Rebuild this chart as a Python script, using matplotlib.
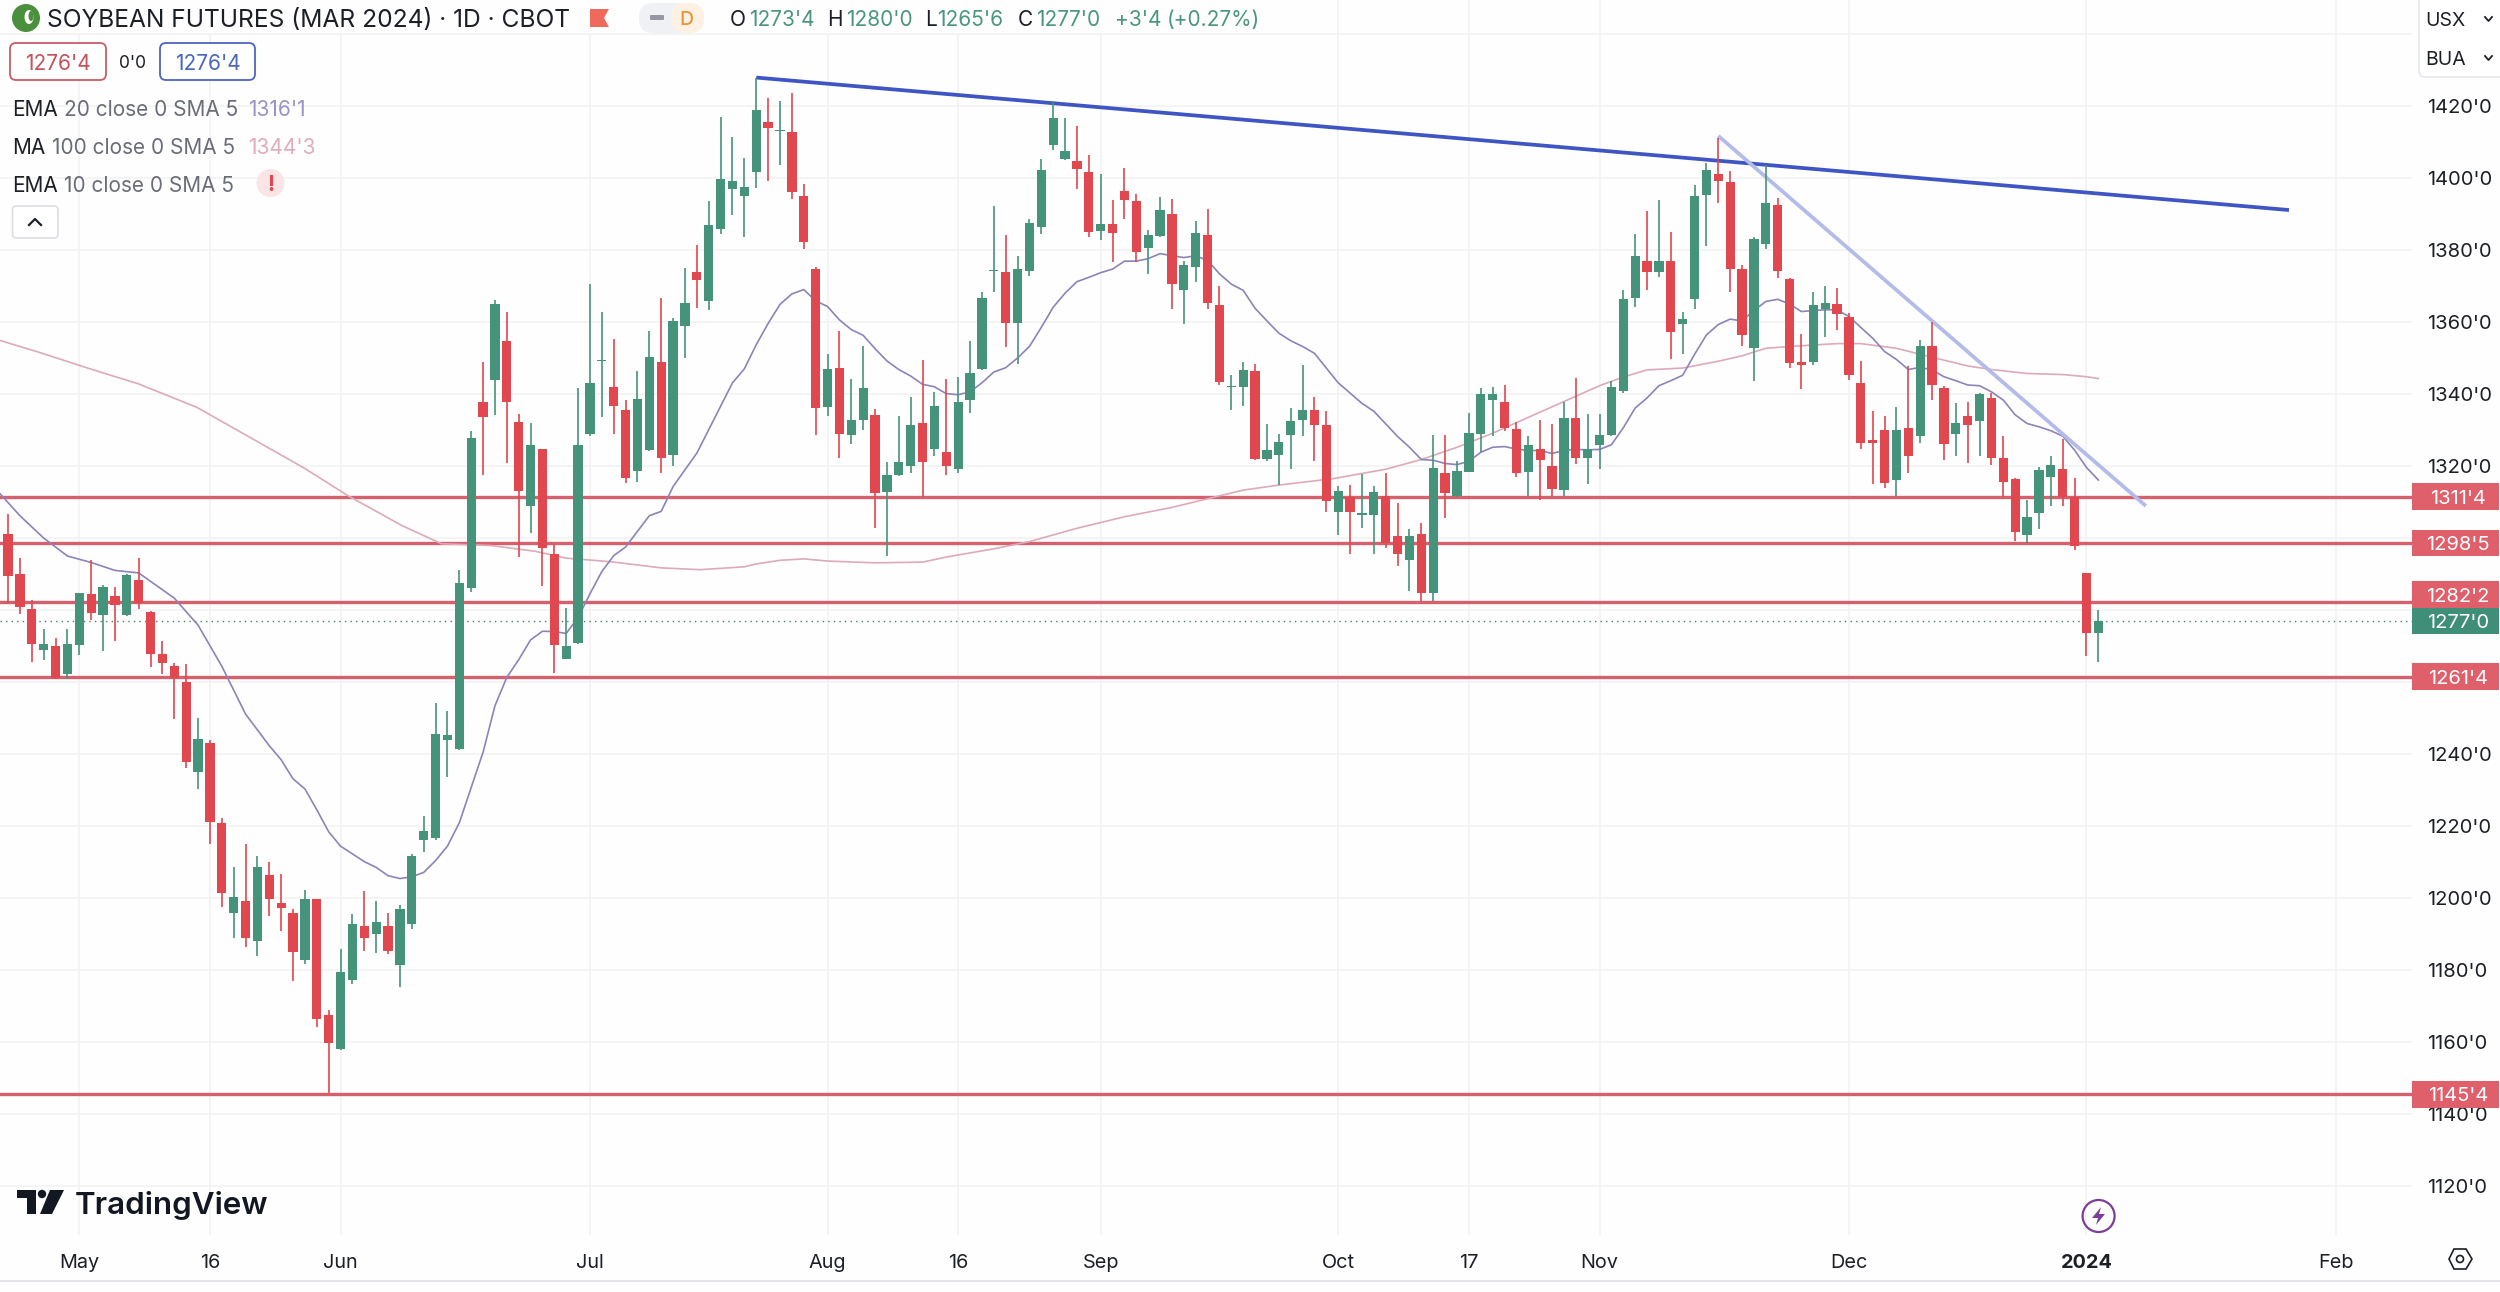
import numpy as np
import matplotlib
matplotlib.use("Agg")
import matplotlib.pyplot as plt
from matplotlib.patches import Rectangle, FancyBboxPatch, Circle, Ellipse, Polygon
from matplotlib.transforms import blended_transform_factory

plt.rcParams['font.family'] = ['Inter', 'DejaVu Sans']

# candle values, one entry per trading day
opens = [1301, 1290, 1280.2, 1268.8, 1269.9, 1262.2, 1270.3, 1284.5, 1278.6, 1284,
         1278.6, 1288.2, 1279.5, 1267.8, 1264.4, 1260, 1235, 1243, 1220.8, 1195.7,
         1199.3, 1188, 1206.3, 1198.7, 1195.9, 1182.9, 1199.8, 1167.5, 1158.1, 1177.3,
         1192.2, 1190, 1192.2, 1181.5, 1192.9, 1216.1, 1216.8, 1243.8, 1241.3, 1286.2,
         1337.7, 1344, 1354.6, 1332.3, 1309, 1324.8, 1295.6, 1266.3, 1270.9, 1328.8,
         1349.1, 1342, 1335.6, 1318.6, 1324.4, 1348.9, 1323, 1358.9, 1374, 1365.9,
         1385.9, 1397, 1395, 1401.7, 1415.6, 1413, 1412.9, 1394.9, 1374.7, 1336.5,
         1347.2, 1328.7, 1332.8, 1334.3, 1312.8, 1317.5, 1319.9, 1331.9, 1324.7, 1323.9,
         1319.1, 1338.4, 1346.9, 1374.1, 1373.8, 1359.8, 1374.2, 1386.3, 1409.1, 1405.3,
         1404.7, 1401.7, 1385.4, 1387.2, 1396.4, 1393.7, 1380.6, 1383.8, 1390.1, 1368.9,
         1375.2, 1384.3, 1364.6, 1342, 1342, 1346.3, 1322, 1323.1, 1328.7, 1332.8,
         1335.5, 1331.4, 1307.1, 1311.3, 1306.5, 1306.4, 1311.6, 1300.6, 1293.8, 1301.1,
         1284.7, 1318.1, 1311.6, 1318.4, 1328.9, 1338.3, 1337.9, 1330.4, 1318.4, 1324.6,
         1320.1, 1313.3, 1333.2, 1322.2, 1325.7, 1328.6, 1340.8, 1366.8, 1376.9, 1373.9,
         1377, 1359.5, 1366.4, 1395.4, 1401.2, 1399, 1374.8, 1352.9, 1381.7, 1392.6,
         1372, 1348.8, 1348.9, 1363.5, 1365, 1361.4, 1343, 1327.2, 1329.9, 1316,
         1330.6, 1328.4, 1353.2, 1341.7, 1328.8, 1333.9, 1332.6, 1338.8, 1322.1, 1316.3,
         1300.9, 1306.9, 1317, 1319.3, 1311.4, 1290.3, 1273.5]
closes = [1289.5, 1280.8, 1270.5, 1270.5, 1261.2, 1270.5, 1284.8, 1279.3, 1286.4, 1281.3,
          1289.7, 1282, 1267.8, 1265.3, 1261.1, 1237.8, 1244.2, 1221.1, 1201.5, 1200.4,
          1188.9, 1208.5, 1199.8, 1197.3, 1185, 1199.8, 1166.4, 1159.6, 1179.4, 1192.9,
          1188.9, 1193.3, 1185.3, 1197, 1211.7, 1218.7, 1245.6, 1245.4, 1287.5, 1327.7,
          1333.5, 1365.1, 1337.8, 1313, 1325.8, 1297.2, 1270.3, 1269.9, 1325.9, 1343,
          1349.5, 1336.7, 1316.8, 1338.5, 1350.2, 1322.1, 1360.4, 1365.4, 1371.6, 1386.9,
          1399.6, 1399.2, 1397.6, 1418.8, 1413.8, 1413.2, 1396, 1382.1, 1336, 1347,
          1328.9, 1332.8, 1341.7, 1312.4, 1317.4, 1321.1, 1331.5, 1321, 1336.6, 1320.1,
          1337.8, 1345.8, 1366.7, 1374.4, 1359.8, 1374.6, 1387.5, 1402.2, 1416.8, 1407.4,
          1402.6, 1384.9, 1387.2, 1384.7, 1393.8, 1379.4, 1384.2, 1391.2, 1370.6, 1375.7,
          1384.7, 1365.3, 1343.4, 1342.3, 1346.7, 1322, 1324.5, 1326.8, 1332.5, 1335.6,
          1331.5, 1310.2, 1313.1, 1307.2, 1307, 1312.8, 1298.7, 1295.5, 1300.6, 1284.7,
          1319.4, 1312.6, 1318.7, 1329.1, 1340, 1340, 1330.6, 1318.1, 1325.9, 1321.8,
          1313.5, 1333.2, 1322.2, 1324.6, 1328.6, 1342, 1366.5, 1378.3, 1373.9, 1376.9,
          1357.3, 1360.8, 1395, 1402.3, 1399.3, 1374.7, 1356.4, 1383.1, 1393, 1374.1,
          1348.6, 1348.1, 1364.7, 1365.4, 1362.2, 1345.4, 1326.4, 1326.4, 1315.3, 1330.1,
          1322.8, 1353.2, 1342.5, 1326.2, 1331.9, 1331.4, 1339.9, 1322.3, 1315.5, 1301.6,
          1305.9, 1318.8, 1320.4, 1311.5, 1297.9, 1273.5, 1277]
highs = [1306.8, 1294.4, 1282.7, 1274.6, 1272.1, 1274.6, 1284.8, 1293.8, 1287, 1286.4,
         1290.1, 1294.4, 1279.8, 1271.4, 1265.4, 1265, 1249.9, 1243.9, 1222.1, 1208.5,
         1215, 1211.7, 1210, 1206.8, 1197, 1202.3, 1199.8, 1168.8, 1185.9, 1195.5,
         1201.9, 1199.2, 1195.7, 1198, 1212.3, 1222.7, 1254.3, 1251.9, 1291, 1329.8,
         1349, 1366.2, 1362.9, 1334.5, 1331.9, 1324.8, 1298.2, 1280.6, 1341.6, 1370.6,
         1362.9, 1355.2, 1338.3, 1346.3, 1357.4, 1366.6, 1361.1, 1375, 1381.5, 1393.6,
         1416.9, 1411.4, 1405.5, 1427.9, 1422.3, 1421.5, 1423.6, 1398.3, 1375.3, 1351,
         1357.6, 1344.1, 1353.4, 1335.9, 1321, 1334, 1339.1, 1349.4, 1340.6, 1344.3,
         1344.6, 1354.8, 1368.4, 1392.2, 1384.3, 1378.4, 1388.5, 1405.2, 1421.5, 1416.6,
         1414.5, 1406.5, 1401, 1393.9, 1402.9, 1395.5, 1385.6, 1394.6, 1394.3, 1376.9,
         1388, 1391.4, 1370, 1345.2, 1348.9, 1348.2, 1331.6, 1328.9, 1336, 1348.1,
         1339.3, 1335.2, 1314.5, 1314.7, 1317.9, 1314.5, 1318.1, 1309.7, 1302.6, 1304.3,
         1328.6, 1328.6, 1321.3, 1334.7, 1341.6, 1342, 1342.6, 1332.3, 1328.4, 1332.7,
         1331.6, 1337.9, 1344.5, 1334.5, 1334.5, 1343.7, 1369, 1384.5, 1390.9, 1393.9,
         1384.9, 1362.7, 1398, 1404.1, 1411, 1401.9, 1375.9, 1383.7, 1403.5, 1394.4,
         1372.2, 1356.6, 1368.4, 1370, 1369.5, 1362.5, 1349.1, 1335.3, 1334, 1336.4,
         1347.8, 1354.9, 1360, 1342.3, 1337.4, 1337.7, 1340.4, 1340.2, 1328.2, 1316.6,
         1310.5, 1319.8, 1322.8, 1327.5, 1316.6, 1290.4, 1280]
lows = [1282, 1279, 1265.5, 1266.2, 1260.7, 1260.7, 1267.5, 1277.1, 1268.6, 1271.4,
        1278.3, 1280.2, 1264.1, 1262.3, 1249.7, 1236.1, 1230.3, 1215, 1197.6, 1189,
        1186.5, 1184, 1194.9, 1190.8, 1177, 1181.8, 1164.2, 1145.7, 1157.7, 1176.1,
        1185.3, 1184.7, 1184.5, 1175.4, 1191.4, 1212.8, 1216.2, 1233.7, 1241, 1285.1,
        1317.4, 1334.1, 1320.7, 1294.8, 1301.5, 1286.6, 1262.4, 1266.3, 1270.6, 1328.4,
        1333.5, 1328.9, 1315.3, 1315.5, 1324.2, 1318, 1319.9, 1350, 1363.9, 1363.3,
        1384.5, 1389.8, 1383.7, 1397.1, 1399.1, 1403.7, 1394.1, 1380.3, 1328.7, 1334,
        1322.3, 1326, 1330.1, 1302.9, 1294.9, 1317.3, 1318.1, 1311.4, 1322.9, 1317.5,
        1318.1, 1334.6, 1346.7, 1368.4, 1353.1, 1348.2, 1372.8, 1384.5, 1407.9, 1405.1,
        1397, 1383.7, 1382.8, 1376.8, 1388.5, 1376.8, 1373.4, 1383.6, 1363.6, 1359.4,
        1371.2, 1363.5, 1342.4, 1335.6, 1336.7, 1321.8, 1321.3, 1314.6, 1319.1, 1328.4,
        1321.5, 1307.2, 1300.9, 1295.5, 1302.8, 1295.5, 1297.2, 1292.1, 1285.3, 1282.4,
        1282.4, 1305.5, 1311.4, 1318.2, 1323.8, 1328.4, 1329.6, 1316.9, 1311.6, 1310.6,
        1311.6, 1311.6, 1320.6, 1315, 1319.1, 1328.4, 1340.3, 1364.2, 1368.9, 1372.5,
        1349.8, 1351, 1363.7, 1381.2, 1393.1, 1368.3, 1353.3, 1343.7, 1380.3, 1372.2,
        1347.3, 1341.5, 1348.1, 1355.8, 1357.7, 1344, 1324.6, 1315, 1314, 1311.6,
        1318.1, 1326.5, 1338.4, 1321.8, 1322.9, 1320.7, 1322.8, 1320.3, 1311.5, 1299.2,
        1298.5, 1302.6, 1309, 1309, 1296.8, 1267.2, 1265.6]

# EMA 20 line, (candle number, price) pairs
ema_days = [-0.7, 1, 3, 5, 7, 9, 11, 14, 16, 18, 20, 22, 23, 24, 25, 26, 27, 28, 30, 31,
            32, 33, 34, 35, 36, 37, 38, 39, 40, 41, 42, 43, 44, 45, 46, 47, 48, 49, 50, 51,
            52, 54, 55, 56, 58, 61, 62, 63, 64, 65, 66, 67, 68, 69, 70, 71, 72, 73, 74, 75,
            76, 77, 78, 79, 80, 81, 82, 83, 84, 85, 86, 87, 88, 89, 90, 91, 92, 93, 94, 95,
            96, 97, 98, 99, 100, 101, 102, 103, 104, 105, 106, 107, 108, 109, 110, 112, 114, 115, 117, 118,
            119, 120, 121, 122, 123, 124, 125, 126, 127, 128, 129, 130, 131, 132, 133, 134, 135, 136, 137, 138,
            139, 140, 141, 142, 143, 144, 145, 146, 147, 148, 149, 150, 151, 152, 153, 154, 155, 157, 158, 159,
            160, 161, 162, 163, 164, 165, 166, 167, 168, 169, 170, 171, 172, 173, 174, 175, 176]
ema_values = [1312.4, 1306.2, 1300, 1295, 1293.2, 1291, 1290.3, 1283.3, 1275.8, 1264.4, 1251.1, 1242.3, 1238.4, 1233.1, 1230.3, 1224.5, 1218.4, 1214.4, 1210.1, 1208.5,
              1206.2, 1205.4, 1205.9, 1207.1, 1210.4, 1214.4, 1220.9, 1230.7, 1240.5, 1253.4, 1261.3, 1266.2, 1271.7, 1274.1, 1274, 1273.5, 1277.9, 1284.5, 1290.7, 1295.1,
              1297.5, 1306.2, 1307.4, 1314.3, 1323.6, 1343.1, 1347, 1353.7, 1359.6, 1364.9, 1367.8, 1369, 1365.9, 1364.3, 1360.6, 1357.9, 1356.3, 1352.6, 1349.2, 1346.8,
              1345, 1342.7, 1342, 1340.1, 1339.8, 1340.6, 1343.1, 1346.1, 1347.3, 1350, 1353.2, 1358.5, 1364.1, 1368, 1371.2, 1372.4, 1373.7, 1374.7, 1376.9, 1376.9,
              1377.6, 1379, 1378.4, 1377.9, 1378.4, 1377.1, 1373.4, 1370.5, 1368.8, 1363.8, 1360.3, 1356.9, 1354.8, 1353.2, 1351.3, 1343.1, 1337.4, 1335.2, 1328.2, 1325.2,
              1321.8, 1321.6, 1320.7, 1320.4, 1321.3, 1323.8, 1325.2, 1325.4, 1324.7, 1324.3, 1324.3, 1323.5, 1324.3, 1324.6, 1324.5, 1324.6, 1325.9, 1330.6, 1336.1, 1338.9,
              1342.3, 1343.7, 1345.2, 1351, 1356.4, 1359.3, 1360.8, 1360.3, 1363.2, 1365.7, 1366.3, 1365, 1362.9, 1363.2, 1363.4, 1363.4, 1361.5, 1355.5, 1351.8, 1349.6,
              1346.8, 1347.4, 1346.7, 1344.8, 1343.7, 1342.5, 1342.3, 1340.6, 1338.3, 1334.2, 1331.8, 1330.9, 1329.8, 1328.3, 1324.4, 1319.6, 1316.1]

# MA 100 line
ma_days = [-0.7, 2.7, 6.8, 11, 15.9, 20.4, 24.9, 28.6, 33.2, 36.5, 40.7, 44.4, 47, 50.8, 55, 58.3,
           62, 63, 65, 67, 69, 73, 77, 79, 83, 86, 90, 94, 98, 102, 104, 107, 111.6, 116, 119, 122,
           125, 128, 131, 134, 136, 138, 141, 144, 146, 148, 150, 154, 156, 159, 162, 165, 167, 170, 173, 175, 176]
ma_values = [1354.9, 1351.5, 1347.1, 1342.8, 1336.3, 1327.9, 1319.5, 1311.8, 1303.4, 1298.4, 1297.9, 1296.3, 1294.4, 1293.4, 1291.7, 1291.2,
             1292, 1292.8, 1293.8, 1294.2, 1293.6, 1293.1, 1293.3, 1294.7, 1297, 1299, 1302.7, 1305.9, 1308.5, 1311.7, 1313.3, 1314.7, 1316.5, 1319.1, 1321.8, 1325.2,
             1329.1, 1333.5, 1337.9, 1342.3, 1344.7, 1346.7, 1347.2, 1349.1, 1350.6, 1352.7, 1353.2, 1354, 1354, 1352.7, 1350.2, 1347.8, 1346.8, 1345.7, 1345.4, 1344.8, 1344.3]

# drawn lines
level_prices = [1311.5, 1298.625, 1282.25, 1261.5, 1145.5]
level_texts = ["1311'4", "1298'5", "1282'2", "1261'4", "1145'4"]
level_label_prices = [1311.5, 1298.625, 1284.3, 1261.5, 1145.5]
trend_days = [63, 192.05]
trend_prices = [1427.9, 1391.1]
trend2_days = [144, 180]
trend2_prices = [1411.7, 1308.9]
last_price = 1277

# axis labels, the ones under the price tags are not shown
price_ticks = list(range(1120, 1421, 20))
price_labels = ['' if p in (1260, 1280, 1300) else f"{p}'0" for p in price_ticks]
date_days = [6, 17, 28, 49, 69, 80, 92, 112, 123, 134, 155, 175, 196]
date_labels = ['May', '16', 'Jun', 'Jul', 'Aug', '16', 'Sep', 'Oct', '17', 'Nov', 'Dec', '2024', 'Feb']

GREEN = '#46937c'
RED = '#e0474f'
LEVEL = '#d6606c'
BLUE = '#3f55c4'
LIGHT = '#b3bbe8'
GRID = '#f3f3f5'
DARK = '#1c1f26'
GRAY = '#6a6d78'

W, H = 2500, 1292
CHART_R, CHART_B = 2412, 1235
STEP = 11.877

fig = plt.figure(figsize=(W / 100, H / 100), dpi=100, facecolor='#fefefe')
ax = fig.add_axes([0, 1 - CHART_B / H, CHART_R / W, CHART_B / H])
ax.set_facecolor('#fefefe')
ax.set_xlim(-8 / STEP, (CHART_R - 8) / STEP)
ax.set_ylim(1420 - (CHART_B - 106) / 3.6, 1420 + 106 / 3.6)
for s in ax.spines.values():
    s.set_visible(False)

# grid and axis labels
ax.yaxis.tick_right()
ax.set_yticks(price_ticks)
ax.set_yticklabels(price_labels, fontsize=14.5, color=DARK)
ax.set_xticks(date_days)
ax.set_xticklabels(date_labels, fontsize=14.3, color=DARK)
ax.tick_params(axis='both', length=0)
ax.tick_params(axis='y', pad=11)
ax.tick_params(axis='x', pad=14)
ax.get_xticklabels()[11].set_fontweight('bold')
ax.grid(True, color=GRID, linewidth=1.3, zorder=0)
ax.set_axisbelow(True)
ax.axhline(1440, color=GRID, linewidth=1.3, zorder=0)

# levels, averages and trend lines under the candles
for p in level_prices:
    ax.axhline(p, color=LEVEL, linewidth=2.4, zorder=2)
ax.axhline(last_price, color='#4d7d6e', linewidth=1.0, linestyle=(0, (1, 3)), zorder=2)
ax.plot(ma_days, ma_values, color='#dcaab8', linewidth=1.2, zorder=2.5)
ax.plot(ema_days, ema_values, color='#8b84b8', linewidth=1.2, zorder=2.5)
ax.plot(trend_days, trend_prices, color=BLUE, linewidth=2.7, zorder=2.6, solid_capstyle='butt')
ax.plot(trend2_days, trend2_prices, color=LIGHT, linewidth=2.7, zorder=2.6, solid_capstyle='butt')

# candles
o = np.array(opens)
c = np.array(closes)
days = np.arange(len(o))
cols = [GREEN if b >= a else RED for a, b in zip(o, c)]
ax.vlines(days, lows, highs, colors=cols, linewidth=1.2, zorder=3)
ax.bar(days, np.abs(c - o), bottom=np.minimum(o, c), width=0.78, color=cols, linewidth=0, zorder=4)

# price tags on the right
tr = blended_transform_factory(ax.transAxes, ax.transData)
tag_w = (W - 1 - CHART_R) / CHART_R
for p, t in zip(level_label_prices, level_texts):
    ax.add_patch(Rectangle((1, p - 3.7), tag_w, 7.4, transform=tr, color='#df5f6b', clip_on=False, zorder=5, linewidth=0))
    ax.text(1 + tag_w * 0.53, p, t, transform=tr, color='white', fontsize=14.5, ha='center', va='center_baseline', clip_on=False, zorder=6)
ax.add_patch(Rectangle((1, last_price - 3.6), tag_w, 7.2, transform=tr, color='#3f8f78', clip_on=False, zorder=5, linewidth=0))
ax.text(1 + tag_w * 0.53, last_price, "1277'0", transform=tr, color='white', fontsize=14.5, ha='center', va='center_baseline', clip_on=False, zorder=6)

# overlay in pixel coordinates for the header widgets and logo
ui = fig.add_axes([0, 0, 1, 1], zorder=10)
ui.set_xlim(0, W)
ui.set_ylim(H, 0)
ui.axis('off')
ui.patch.set_alpha(0)


def label(x, y, s, color=DARK, size=15, ha='left', **kw):
    ui.text(x, y, s, color=color, fontsize=size, ha=ha, va='center_baseline', **kw)


def box(x0, y0, x1, y1, edge, face='white', lw=1.4, r=6):
    ui.add_patch(FancyBboxPatch((x0 + r, y0 + r), x1 - x0 - 2 * r, y1 - y0 - 2 * r,
                                boxstyle=f'round,pad={r},rounding_size={r}',
                                edgecolor=edge, facecolor=face, linewidth=lw))


# title row
ui.add_patch(Rectangle((0, 0), 1300, 33, color='#fefefe', linewidth=0))
ui.add_patch(Circle((26, 18), 14, color='#4a8f3c', linewidth=0))
ui.add_patch(Ellipse((29, 17), 9, 14, color='white', linewidth=0))
ui.add_patch(Ellipse((31, 16), 5, 10, color='#4a8f3c', linewidth=0))
label(47, 18, 'SOYBEAN FUTURES (MAR 2024) · 1D · CBOT', size=17.7)
ui.add_patch(Polygon([(590, 9), (609, 9), (604, 18), (609, 27), (590, 27)], color='#ef6a5c', linewidth=0))
box(640, 4, 690, 32, '#f0f1f4', '#f0f1f4', r=13)
box(672, 4, 703, 32, '#fdf1e4', '#fdf1e4', r=13)
ui.add_patch(FancyBboxPatch((651, 16), 12, 3, boxstyle='round,pad=1', color='#9598a1', linewidth=0))
label(686, 18, 'D', color='#e8963c', size=14, ha='center', fontweight='medium')
ohlc_green = '#4a9680'
for x, s, col in [(730, 'O', DARK), (749, "1273'4", ohlc_green), (827, 'H', DARK), (846, "1280'0", ohlc_green),
                  (925, 'L', DARK), (937, "1265'6", ohlc_green), (1018, 'C', DARK), (1036, "1277'0", ohlc_green),
                  (1115, "+3'4", ohlc_green), (1167, '(+0.27%)', ohlc_green)]:
    label(x, 18, s, color=col, size=15)

# bid / ask boxes
box(10, 43, 106, 80, '#c95c66', lw=1.3)
label(58, 62, "1276'4", color='#c4525c', ha='center')
label(133, 62, "0'0", size=12.5, ha='center')
box(160, 43, 255, 80, '#4a66c0', lw=1.3)
label(207.5, 62, "1276'4", color='#4a66c0', ha='center')

# indicator legend
label(12.5, 108, 'EMA')
label(64, 108, '20 close 0 SMA 5', color=GRAY)
label(248, 108, "1316'1", color='#9a94c4')
label(12.5, 146, 'MA')
label(52, 146, '100 close 0 SMA 5', color=GRAY)
label(248, 146, "1344'3", color='#dfadbc')
label(12.5, 184, 'EMA')
label(64, 184, '10 close 0 SMA 5', color=GRAY)
ui.add_patch(Circle((270.5, 183), 14, color='#fbe4e6', linewidth=0))
label(270.5, 183, '!', color='#e0474f', ha='center', fontweight='bold')
box(12.5, 206, 58, 238, '#dcdee3', lw=1.2, r=4)
ui.plot([29, 35, 41], [225, 219, 225], color=DARK, linewidth=1.6)

# currency and unit selector
box(2419, -10, 2510, 77, '#e3e5ea', lw=1.1, r=6)
label(2425, 19, 'USX', size=14)
label(2425, 58, 'BUA', size=14)
ui.plot([2485, 2488.5, 2492], [17, 21, 17], color=DARK, linewidth=1.3)
ui.plot([2485, 2488.5, 2492], [56, 60, 56], color=DARK, linewidth=1.3)

# TradingView logo
ui.add_patch(Polygon([(17, 1190), (36, 1190), (36, 1214), (27, 1214), (27, 1198), (17, 1198)], color='#131722', linewidth=0))
ui.add_patch(Circle((42, 1194), 4.2, color='#131722', linewidth=0))
ui.add_patch(Polygon([(50, 1190), (64, 1190), (52, 1214), (40, 1214)], color='#131722', linewidth=0))
label(75, 1203, 'TradingView', color='#131722', size=22.6, fontweight='semibold')

# lightning mark and settings icon at the bottom
ui.add_patch(Ellipse((2098.6, 1216), 32, 32, edgecolor='#7b3f98', facecolor='none', linewidth=1.6))
ui.add_patch(Polygon([(2101, 1207), (2092, 1218), (2098, 1218), (2096, 1225), (2105, 1214), (2099, 1214)], color='#7b3f98', linewidth=0))
ui.add_patch(Polygon([(2449, 1259), (2454, 1249), (2466, 1249), (2472, 1259), (2466, 1269), (2454, 1269)], edgecolor=DARK, facecolor='none', linewidth=1.2))
ui.add_patch(Circle((2460, 1259), 3.5, edgecolor=DARK, facecolor='none', linewidth=1.2))
ui.plot([0, W], [1281, 1281], color='#e2e4e8', linewidth=1.4)

fig.savefig('out.png', dpi=100, facecolor=fig.get_facecolor())
